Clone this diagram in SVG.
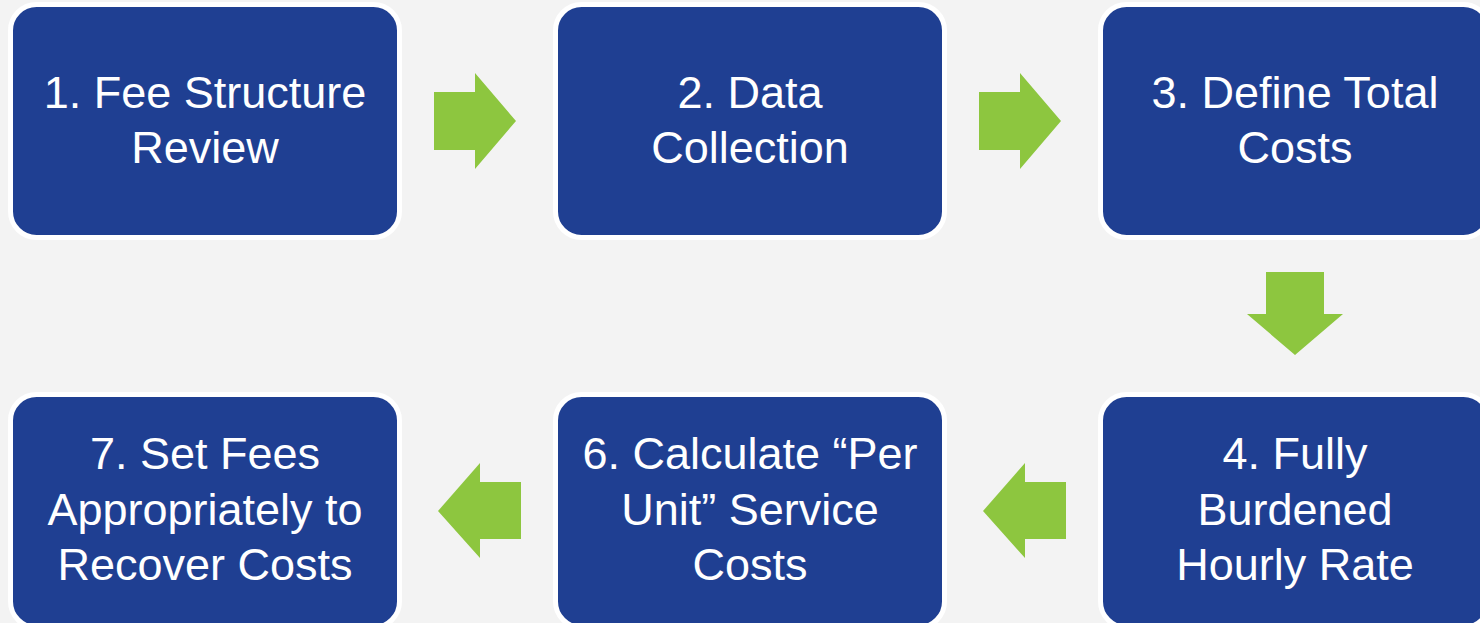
<svg xmlns="http://www.w3.org/2000/svg" width="1480" height="623" viewBox="0 0 1480 623">
<style>
.box{fill:#1f3f92;stroke:#ffffff;stroke-width:5}
.lbl{font-family:"Liberation Sans",Arial,sans-serif;font-size:45px;fill:#ffffff;text-anchor:middle}
.arr{fill:#8dc63f}
</style>
<rect x="0" y="0" width="1480" height="623" fill="#f3f3f3"/>
<g id="connectors">
<polygon class="arr" points="434,92 475,92 475,73 516,121 475,169 475,150 434,150"/>
<polygon class="arr" points="979,92 1020,92 1020,73 1061,121 1020,169 1020,150 979,150"/>
<polygon class="arr" points="1266,272 1324,272 1324,314 1343,314 1295,355 1247,314 1266,314"/>
<polygon class="arr" points="1066,482 1025,482 1025,463 983,511 1025,558 1025,539 1066,539"/>
<polygon class="arr" points="521,482 480,482 480,463 438,511 480,558 480,539 521,539"/>
</g>
<g id="node1">
<rect class="box" x="10.5" y="4.5" width="389" height="233" rx="26"/>
<text class="lbl" x="205" y="108">1. Fee Structure</text>
<text class="lbl" x="205" y="163">Review</text>
</g>
<g id="node2">
<rect class="box" x="555.5" y="4.5" width="389" height="233" rx="26"/>
<text class="lbl" x="750" y="108">2. Data</text>
<text class="lbl" x="750" y="163">Collection</text>
</g>
<g id="node3">
<rect class="box" x="1100.5" y="4.5" width="389" height="233" rx="26"/>
<text class="lbl" x="1295" y="108">3. Define Total</text>
<text class="lbl" x="1295" y="163">Costs</text>
</g>
<g id="node4">
<rect class="box" x="1100.5" y="394.5" width="389" height="233" rx="26"/>
<text class="lbl" x="1295" y="469">4. Fully</text>
<text class="lbl" x="1295" y="525">Burdened</text>
<text class="lbl" x="1295" y="580">Hourly Rate</text>
</g>
<g id="node6">
<rect class="box" x="555.5" y="394.5" width="389" height="233" rx="26"/>
<text class="lbl" x="750" y="469">6. Calculate “Per</text>
<text class="lbl" x="750" y="525">Unit” Service</text>
<text class="lbl" x="750" y="580">Costs</text>
</g>
<g id="node7">
<rect class="box" x="10.5" y="394.5" width="389" height="233" rx="26"/>
<text class="lbl" x="205" y="469">7. Set Fees</text>
<text class="lbl" x="205" y="525">Appropriately to</text>
<text class="lbl" x="205" y="580">Recover Costs</text>
</g>
</svg>
